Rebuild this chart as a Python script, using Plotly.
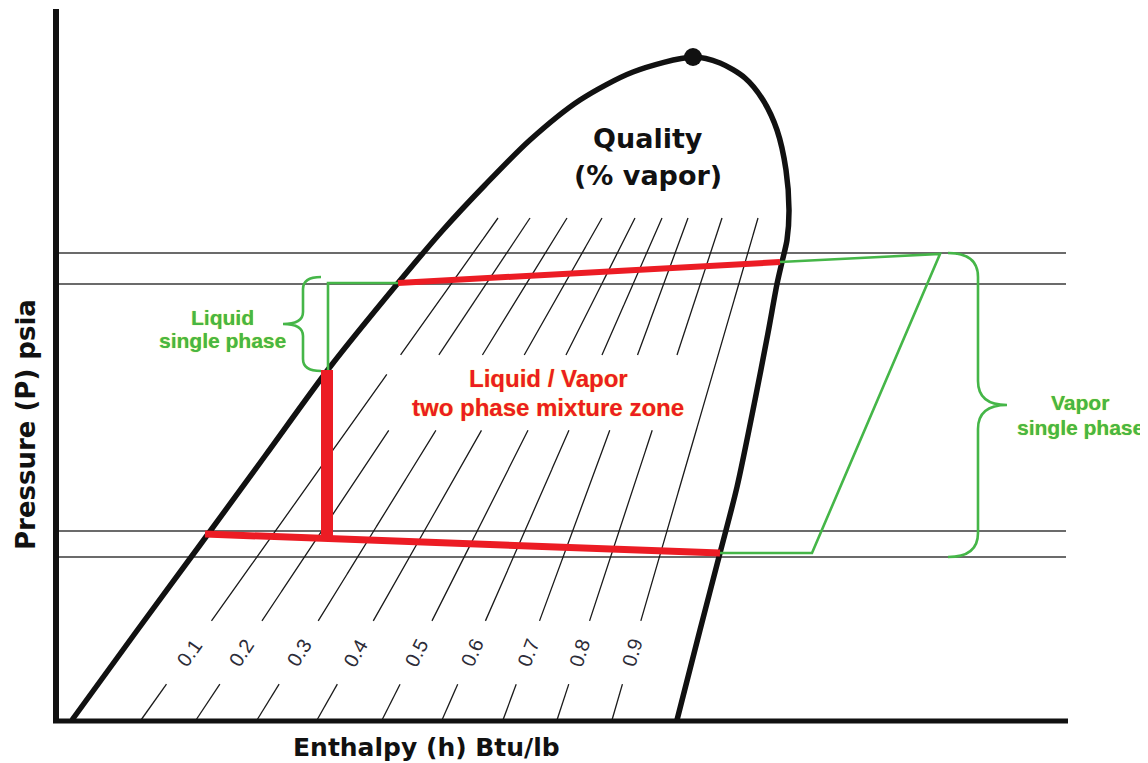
import numpy as np
import plotly.graph_objects as go

# ---------------- data (schematic P-h diagram, arbitrary units) ----------------
# saturation dome: liquid side (left) then vapor side (right)
DOME_H = [72, 136, 200, 265, 330, 398, 443, 485, 530, 580, 633, 693,
          720, 745, 763, 777, 786, 789, 787, 782, 777, 768, 755, 737, 720, 700, 677]
DOME_P = [43, 131, 218, 307, 396, 480, 533, 578, 623, 663, 691, 706,
          700, 685, 663, 633, 593, 553, 523, 501, 479, 430, 363, 276, 210, 133, 43]
CRITICAL_H = [693]
CRITICAL_P = [706]

# constant-quality lines
QUALITY_LABELS = ["0.1", "0.2", "0.3", "0.4", "0.5", "0.6", "0.7", "0.8", "0.9"]
QUALITY_H_BOTTOM = [141, 196, 257, 317, 382, 442, 503, 557, 612]
QUALITY_H_TOP = [498, 530, 567, 602, 635, 662, 688, 722, 758]
QUALITY_P_BOTTOM = 43
QUALITY_P_TOP = 545

# constant-pressure reference lines
PRESSURE_LEVELS = [510, 479, 232, 206]
PRESSURE_H_RANGE = [58, 1066]

# refrigeration cycle (red = two-phase / expansion, green = single phase)
CONDENSE_H = [398, 780]
CONDENSE_P = [480, 501]
EXPAND_H = [327, 327]
EXPAND_P = [393, 225]
EVAP_H = [205, 720]
EVAP_P = [229, 210]
SUBCOOL_H = [398, 328, 328]
SUBCOOL_P = [480, 480, 393]
SUPERHEAT_H = [720, 812, 940, 780]
SUPERHEAT_P = [210, 210, 509, 501]

# ---------------- styling ----------------
RED = "#ec1c24"
GREEN = "#45b648"
BLACK = "#111111"
BOLD_FONT = "DejaVu Sans"
LABEL_FONT = "Liberation Sans"

fig = go.Figure()

# thin constant-pressure lines
for p in PRESSURE_LEVELS:
    fig.add_trace(go.Scatter(x=PRESSURE_H_RANGE, y=[p, p], mode="lines",
                             line=dict(color="#3a3a3a", width=1.3)))

# quality lines with gaps for the labels and the central text
LABEL_BAND = (79, 142)
TEXT_BOX = (387, 690, 333, 408)
qx, qy = [], []
label_pos = []
for hb, ht in zip(QUALITY_H_BOTTOM, QUALITY_H_TOP):
    p = np.linspace(QUALITY_P_BOTTOM, QUALITY_P_TOP, 1500)
    h = hb + (ht - hb) * (p - QUALITY_P_BOTTOM) / (QUALITY_P_TOP - QUALITY_P_BOTTOM)
    mask = ((p > LABEL_BAND[0]) & (p < LABEL_BAND[1])) | (
        (h > TEXT_BOX[0]) & (h < TEXT_BOX[1]) & (p > TEXT_BOX[2]) & (p < TEXT_BOX[3]))
    h = h.copy()
    h[mask] = np.nan
    qx += list(h) + [np.nan]
    qy += list(p) + [np.nan]
    pm = 0.5 * (LABEL_BAND[0] + LABEL_BAND[1])
    hm = hb + (ht - hb) * (pm - QUALITY_P_BOTTOM) / (QUALITY_P_TOP - QUALITY_P_BOTTOM)
    ang = np.degrees(np.arctan2(QUALITY_P_TOP - QUALITY_P_BOTTOM, ht - hb))
    label_pos.append((hm, pm, ang))
fig.add_trace(go.Scatter(x=qx, y=qy, mode="lines", connectgaps=False,
                         line=dict(color="#1a1a1a", width=1.3)))

# dome
fig.add_trace(go.Scatter(x=DOME_H, y=DOME_P, mode="lines",
                         line=dict(color=BLACK, width=5.5, shape="spline", smoothing=0.8)))

# green single-phase paths
fig.add_trace(go.Scatter(x=SUBCOOL_H, y=SUBCOOL_P, mode="lines",
                         line=dict(color=GREEN, width=2.6)))
fig.add_trace(go.Scatter(x=SUPERHEAT_H, y=SUPERHEAT_P, mode="lines",
                         line=dict(color=GREEN, width=2.6)))

# red two-phase paths
fig.add_trace(go.Scatter(x=CONDENSE_H, y=CONDENSE_P, mode="lines",
                         line=dict(color=RED, width=6)))
fig.add_trace(go.Scatter(x=EVAP_H, y=EVAP_P, mode="lines",
                         line=dict(color=RED, width=7)))
fig.add_trace(go.Scatter(x=EXPAND_H, y=EXPAND_P, mode="lines",
                         line=dict(color=RED, width=12)))

# critical point
fig.add_trace(go.Scatter(x=CRITICAL_H, y=CRITICAL_P, mode="markers",
                         marker=dict(color=BLACK, size=18)))

# axes drawn as heavy lines
shapes = [
    dict(type="line", x0=56, x1=56, y0=40, y1=754, line=dict(color=BLACK, width=6)),
    dict(type="line", x0=53, x1=1068, y0=42, y1=42, line=dict(color=BLACK, width=5)),
]


def brace(x_end, x_spine, x_tip, y_top, y_bot, r):
    y_mid = 0.5 * (y_top + y_bot)
    rt = r if y_top > y_bot else -r
    return (f"M {x_end},{y_top} Q {x_spine},{y_top} {x_spine},{y_top - rt} "
            f"L {x_spine},{y_mid + rt} "
            f"Q {x_spine},{y_mid} {x_tip},{y_mid} "
            f"Q {x_spine},{y_mid} {x_spine},{y_mid - rt} "
            f"L {x_spine},{y_bot + rt} Q {x_spine},{y_bot} {x_end},{y_bot}")


shapes.append(dict(type="path", path=brace(321, 303, 283, 486, 392, 12),
                   line=dict(color=GREEN, width=2.6)))
shapes.append(dict(type="path", path=brace(948, 978, 1007, 510, 206, 24),
                   line=dict(color=GREEN, width=2.6)))

annotations = []


def txt(x, y, s, size, color, family, angle=0, shadow=None):
    f = dict(size=size, color=color, family=family)
    if shadow:
        f["shadow"] = shadow
    annotations.append(dict(x=x, y=y, xref="x", yref="y", text=s, showarrow=False,
                            font=f, textangle=angle, xanchor="center", yanchor="middle"))


for lab, (hm, pm, ang) in zip(QUALITY_LABELS, label_pos):
    txt(hm, pm, lab, 20, "#2c2c38", LABEL_FONT, angle=-ang)

txt(648, 625, "<b>Quality</b>", 27, BLACK, BOLD_FONT)
txt(648, 588, "<b>(% vapor)</b>", 27, BLACK, BOLD_FONT)
txt(548, 385, "<b>Liquid / Vapor</b>", 24, RED, LABEL_FONT, shadow="0px 0px 1px #f0d000")
txt(548, 356, "<b>two phase mixture zone</b>", 24, RED, LABEL_FONT, shadow="0px 0px 1px #f0d000")
txt(222, 446, "<b>Liquid</b>", 21, GREEN, LABEL_FONT, shadow="0px 0px 1px #e0e000")
txt(222, 423, "<b>single phase</b>", 21, GREEN, LABEL_FONT, shadow="0px 0px 1px #e0e000")
txt(1080, 361, "<b>Vapor</b>", 21, GREEN, LABEL_FONT, shadow="0px 0px 1px #e0e000")
txt(1080, 336, "<b>single phase</b>", 21, GREEN, LABEL_FONT, shadow="0px 0px 1px #e0e000")
txt(26, 338, "<b>Pressure (P) psia</b>", 26, BLACK, BOLD_FONT, angle=-90)
txt(426, 16, "<b>Enthalpy (h) Btu/lb</b>", 25, BLACK, BOLD_FONT)

# the page places the figure 8px in from the top-left corner, so the figure is
# 8px smaller and the ranges are chosen so data units equal window pixels
fig.update_layout(
    width=1140, height=755, autosize=False,
    margin=dict(l=0, r=0, t=0, b=0),
    paper_bgcolor="white", plot_bgcolor="white",
    showlegend=False, hovermode=False,
    xaxis=dict(range=[8, 1148], visible=False, fixedrange=True),
    yaxis=dict(range=[0, 755], visible=False, fixedrange=True),
    shapes=shapes, annotations=annotations,
)

fig.write_html("out.html")
